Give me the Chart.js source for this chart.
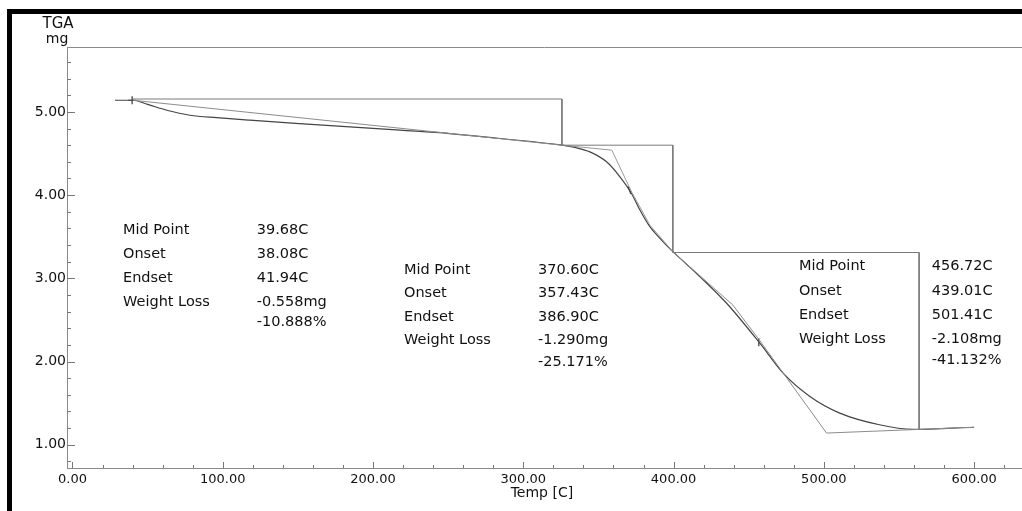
<!DOCTYPE html>
<html>
<head>
<meta charset="utf-8">
<script src="https://cdn.jsdelivr.net/npm/chart.js@4.4.1/dist/chart.umd.min.js"></script>
<style>
  html, body { margin: 0; padding: 0; background: #fff; }
  canvas { display: block; }
</style>
</head>
<body>
<canvas id="c" width="1022" height="511"></canvas>
<script>
// ---------- data ----------
const tempC   = [28.3, 40.2, 50, 62.7, 78.2, 96, 118, 151, 218, 251, 284.5, 325.7, 335, 344.3, 355.4, 364.3, 372, 377.6, 384.2, 390.9, 399.5, 408, 417.5, 435.3, 457.4, 472.9, 490.7, 510.6, 537, 559.2, 600];
const weightMg = [5.14, 5.14, 5.09, 5.02, 4.96, 4.93, 4.90, 4.86, 4.78, 4.74, 4.68, 4.60, 4.57, 4.52, 4.40, 4.22, 4.02, 3.82, 3.62, 3.48, 3.32, 3.18, 3.02, 2.70, 2.22, 1.86, 1.58, 1.38, 1.24, 1.185, 1.21];

// step (box) construction lines
const stepTemp = [40.2, 325.7, 325.7, 399.5, 399.5, 563.4, 563.4];
const stepMg   = [5.155, 5.155, 4.60, 4.60, 3.31, 3.31, 1.185];

// tangent / onset construction lines
const tan1Temp = [40.2, 325.7];
const tan1Mg   = [5.14, 4.60];
const tan2Temp = [325.7, 358.9, 372.3, 384.2, 399.5];
const tan2Mg   = [4.60, 4.54, 4.03, 3.64, 3.32];
const tan3Temp = [399.5, 439.4, 457.4, 501.8, 600];
const tan3Mg   = [3.32, 2.68, 2.25, 1.14, 1.21];

// mid point markers
const midTemp = [39.68, 370.60, 456.72];
const midMg   = [5.14, 4.06, 2.23];

// axis ticks
const xMin = -3.66, xMax = 628.4;
const yMin = 0.72, yMax = 5.78;
const xTickValues = [0, 20, 40, 60, 80, 100, 120, 140, 160, 180, 200, 220, 240, 260, 280, 300, 320, 340, 360, 380, 400, 420, 440, 460, 480, 500, 520, 540, 560, 580, 600, 620];
const xTickLabels = ['0.00', '100.00', '200.00', '300.00', '400.00', '500.00', '600.00'];
const yTickValues = [0.8, 1.0, 1.2, 1.4, 1.6, 1.8, 2.0, 2.2, 2.4, 2.6, 2.8, 3.0, 3.2, 3.4, 3.6, 3.8, 4.0, 4.2, 4.4, 4.6, 4.8, 5.0, 5.2, 5.4, 5.6];
const yTickLabels = ['1.00', '2.00', '3.00', '4.00', '5.00'];

// annotation texts
const annLabels = ['Mid Point', 'Onset', 'Endset', 'Weight Loss', ''];
const annValues = [
  ['39.68C', '38.08C', '41.94C', '-0.558mg', '-10.888%'],
  ['370.60C', '357.43C', '386.90C', '-1.290mg', '-25.171%'],
  ['456.72C', '439.01C', '501.41C', '-2.108mg', '-41.132%']
];
// annotation anchors (data units) : label x, value x, first row y
const annLabelX = [33.6, 220.6, 483.4];
const annValueX = [122.6, 309.8, 571.8];
const annTopY   = [3.574, 3.100, 3.148];
const annRowPx  = [[0, 24, 47.5, 71.5, 91.5], [0, 23.5, 47, 70.5, 92], [0, 25, 49.5, 73.5, 94.5]];

const pts = (xs, ys) => xs.map((x, i) => ({ x: x, y: ys[i] }));
const FONT = '"DejaVu Sans", "Liberation Sans", Arial, sans-serif';
const isLabelled = (v, labels) => labels.some(l => Math.abs(parseFloat(l) - v) < 1e-6);
const labelFor = (v, labels) => { const l = labels.find(s => Math.abs(parseFloat(s) - v) < 1e-6); return l || ''; };

const decor = {
  id: 'decor',
  beforeDraw(chart) {
    const ctx = chart.ctx;
    ctx.save();
    ctx.fillStyle = '#fff';
    ctx.fillRect(0, 0, chart.width, chart.height);
    ctx.restore();
  },
  afterDraw(chart) {
    const ctx = chart.ctx, ca = chart.chartArea;
    const xs = chart.scales.x, ys = chart.scales.y;
    ctx.save();
    // black frame (top and left)
    ctx.fillStyle = '#000';
    ctx.fillRect(7, 9, chart.width - 7, 5);
    ctx.fillRect(7, 9, 5, chart.height - 9);
    // top line of plot box and axis extension
    ctx.strokeStyle = '#8a8a8a';
    ctx.lineWidth = 1;
    ctx.beginPath();
    ctx.moveTo(ca.left, ca.top + 0.5);
    ctx.lineTo(chart.width, ca.top + 0.5);
    ctx.moveTo(ca.left, ca.bottom + 0.5);
    ctx.lineTo(chart.width, ca.bottom + 0.5);
    ctx.stroke();
    // inside tick marks from library ticks
    ctx.strokeStyle = '#777';
    ctx.beginPath();
    xs.ticks.forEach(t => {
      const major = isLabelled(t.value, xTickLabels);
      const px = Math.round(xs.getPixelForValue(t.value)) + 0.5;
      ctx.moveTo(px, ca.bottom);
      ctx.lineTo(px, ca.bottom - (major ? 6 : 3));
    });
    ys.ticks.forEach(t => {
      const major = isLabelled(t.value, yTickLabels);
      const py = Math.round(ys.getPixelForValue(t.value)) + 0.5;
      ctx.moveTo(ca.left, py);
      ctx.lineTo(ca.left + (major ? 8 : 4), py);
    });
    ctx.stroke();
    // y axis caption
    ctx.fillStyle = '#111';
    ctx.textAlign = 'center';
    ctx.textBaseline = 'middle';
    ctx.font = '15px ' + FONT;
    ctx.fillText('TGA', ca.left - 9, 24);
    ctx.font = '14px ' + FONT;
    ctx.fillText('mg', ca.left - 10, 39);
    // annotation blocks
    ctx.font = '14.5px ' + FONT;
    ctx.textAlign = 'left';
    annValues.forEach((vals, b) => {
      const lx = xs.getPixelForValue(annLabelX[b]);
      const vx = xs.getPixelForValue(annValueX[b]);
      const top = ys.getPixelForValue(annTopY[b]);
      vals.forEach((v, i) => {
        const y = top + annRowPx[b][i];
        if (annLabels[i]) ctx.fillText(annLabels[i], lx, y);
        ctx.fillText(v, vx, y);
      });
    });
    ctx.restore();
  }
};

new Chart(document.getElementById('c'), {
  type: 'scatter',
  data: {
    datasets: [
      { data: pts(stepTemp, stepMg), showLine: true, borderColor: '#7a7a7a', borderWidth: 1, pointRadius: 0, tension: 0 },
      { data: pts(tan1Temp, tan1Mg), showLine: true, borderColor: '#8c8c8c', borderWidth: 1, pointRadius: 0, tension: 0 },
      { data: pts(tan2Temp, tan2Mg), showLine: true, borderColor: '#9a9a9a', borderWidth: 1, pointRadius: 0, tension: 0 },
      { data: pts(tan3Temp, tan3Mg), showLine: true, borderColor: '#8c8c8c', borderWidth: 1, pointRadius: 0, tension: 0 },
      { data: pts(tempC, weightMg), showLine: true, borderColor: '#444', borderWidth: 1.2, pointRadius: 0, cubicInterpolationMode: 'monotone' },
      { data: pts(midTemp, midMg), showLine: false, pointStyle: ['cross', 'line', 'line'], rotation: [0, 70, 90], pointRadius: 4, borderColor: '#333', borderWidth: 1.2, backgroundColor: '#333' }
    ]
  },
  options: {
    responsive: false,
    animation: false,
    devicePixelRatio: 1,
    layout: { padding: { top: 47, left: 0, right: 0, bottom: 0 } },
    plugins: { legend: { display: false }, tooltip: { enabled: false } },
    elements: { line: { borderCapStyle: 'butt' } },
    scales: {
      x: {
        type: 'linear', min: xMin, max: xMax,
        grid: { display: false, drawTicks: false },
        border: { display: true, color: '#8a8a8a', width: 1 },
        afterBuildTicks: s => { s.ticks = xTickValues.map(v => ({ value: v })); },
        ticks: {
          autoSkip: false, maxRotation: 0, padding: 4,
          color: '#111', font: { family: FONT, size: 13 },
          callback: v => labelFor(v, xTickLabels)
        },
        title: { display: true, text: 'Temp [C]', color: '#111', font: { family: FONT, size: 14 }, padding: { top: 0, bottom: 9 } },
        afterFit: s => { s.height = 43; }
      },
      y: {
        type: 'linear', min: yMin, max: yMax,
        grid: { display: false, drawTicks: false },
        border: { display: true, color: '#8a8a8a', width: 1 },
        afterBuildTicks: s => { s.ticks = yTickValues.map(v => ({ value: v })); },
        ticks: {
          autoSkip: false, padding: 1,
          color: '#111', font: { family: FONT, size: 14 },
          callback: v => labelFor(v, yTickLabels)
        },
        afterFit: s => { s.width = 67; }
      }
    }
  },
  plugins: [decor]
});
</script>
</body>
</html>
